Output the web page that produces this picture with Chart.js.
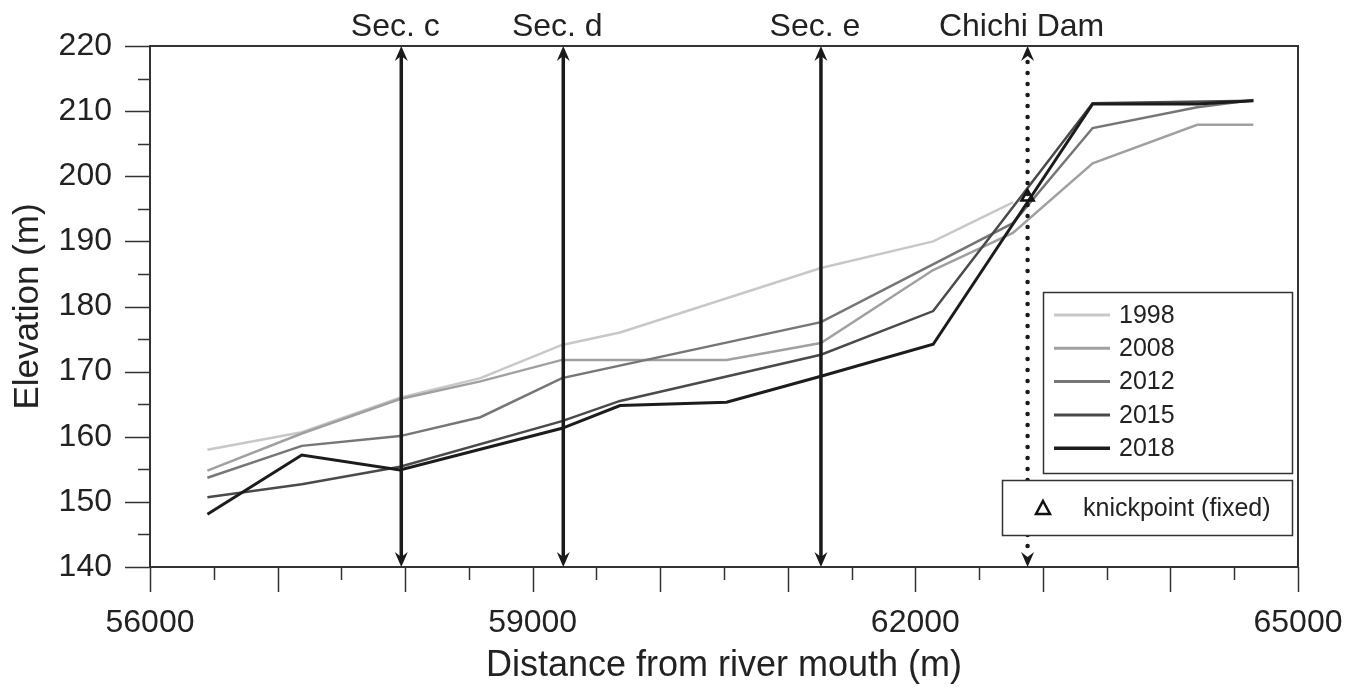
<!DOCTYPE html>
<html><head><meta charset="utf-8">
<script src="https://cdn.jsdelivr.net/npm/chart.js@4.4.1/dist/chart.umd.min.js"></script>
<style>html,body{margin:0;padding:0;background:#fff;} #wrap{width:1358px;height:693px;}</style>
</head><body><div id="wrap"><canvas id="c" width="1358" height="693"></canvas></div>
<script>
const years = ['1998','2008','2012','2015','2018'];
const dist1998 = [56450,57190,57960,58590,59230,59685,61260,62140,62765];
const elev1998 = [158.0,160.7,166.0,169.0,174.1,176.0,185.9,190.0,196.0];
const dist2008 = [56450,57190,57960,58590,59230,60520,61260,62140,62765,63390,64210,64650];
const elev2008 = [154.8,160.5,165.8,168.5,171.8,171.8,174.4,185.6,191.3,202.0,207.9,207.9];
const dist2012 = [56450,57190,57960,58590,59230,61260,62765,63390,64210,64650];
const elev2012 = [153.7,158.6,160.1,163.0,169.0,177.6,192.8,207.4,210.6,211.7];
const dist2015 = [56450,57190,57960,59230,59685,61260,62140,63390,64650];
const elev2015 = [150.7,152.7,155.4,162.4,165.5,172.6,179.3,211.2,211.6];
const dist2018 = [56450,57190,57960,59230,59685,60520,61260,62140,63390,64210,64650];
const elev2018 = [148.1,157.2,154.9,161.3,164.8,165.3,169.3,174.2,211.1,211.1,211.6];
const sectionNames = ['Sec. c','Sec. d','Sec. e','Chichi Dam'];
const sectionDist = [57970,59240,61260,62880];
const sectionDotted = [false,false,false,true];
const knickDist = [62880];
const knickElev = [196.8];
const knickLabel = 'knickpoint (fixed)';
const xTitle = 'Distance from river mouth (m)';
const yTitle = 'Elevation (m)';
const xMin = 56000, xMax = 65000, xLabelStep = 3000;
const yMin = 140, yMax = 220;

const dists = [dist1998,dist2008,dist2012,dist2015,dist2018];
const elevs = [elev1998,elev2008,elev2012,elev2015,elev2018];
const lineColors = ['#c8c8c8','#a0a0a0','#767676','#4a4a4a','#1c1c1c'];
const lineWidths = [2.5,2.5,2.5,2.5,3];
const FONT = '"Liberation Sans", Arial, Helvetica, sans-serif';
const TXT = '#222';

const datasets = years.map((yr,i)=>({
  label: yr,
  data: dists[i].map((d,j)=>({x:d,y:elevs[i][j]})),
  borderColor: lineColors[i], borderWidth: lineWidths[i],
  pointRadius: 0, fill: false, tension: 0, order: 5 - i
}));
datasets.push({
  label: knickLabel,
  data: knickDist.map((d,j)=>({x:d,y:knickElev[j]})),
  showLine: false, pointStyle: 'triangle', pointRadius: 7,
  pointBorderColor: '#111', pointBackgroundColor: 'rgba(0,0,0,0)', pointBorderWidth: 2.5, order: 0
});

function arrowHead(ctx, x, y, dir){
  ctx.beginPath();
  ctx.moveTo(x, y);
  ctx.lineTo(x-6.5, y + dir*15);
  ctx.lineTo(x, y + dir*10);
  ctx.lineTo(x+6.5, y + dir*15);
  ctx.closePath();
  ctx.fill();
}

const decor = {
  id: 'decor',
  afterDatasetsDraw(chart){
    const ctx = chart.ctx, xs = chart.scales.x, ys = chart.scales.y;
    const top = ys.getPixelForValue(yMax), bot = ys.getPixelForValue(yMin);
    ctx.save();
    sectionDist.forEach((d,i)=>{
      const x = xs.getPixelForValue(d);
      ctx.strokeStyle = '#1a1a1a'; ctx.fillStyle = '#1a1a1a';
      if (sectionDotted[i]) {
        ctx.lineWidth = 4.5; ctx.lineCap = 'round'; ctx.setLineDash([0, 11]);
        ctx.beginPath(); ctx.moveTo(x, top+16); ctx.lineTo(x, bot-12); ctx.stroke();
        ctx.setLineDash([]);
      } else {
        ctx.lineWidth = 3.5; ctx.lineCap = 'butt';
        ctx.beginPath(); ctx.moveTo(x, top+10); ctx.lineTo(x, bot-10); ctx.stroke();
      }
      arrowHead(ctx, x, top, 1);
      arrowHead(ctx, x, bot, -1);
      ctx.font = '32px ' + FONT; ctx.fillStyle = TXT;
      ctx.textAlign = 'center'; ctx.textBaseline = 'middle';
      ctx.fillText(sectionNames[i], x - 6, 27);
    });
    ctx.restore();
  },
  afterDraw(chart){
    const ctx = chart.ctx, xs = chart.scales.x, ys = chart.scales.y;
    const a = chart.chartArea;
    ctx.save();
    ctx.strokeStyle = '#333'; ctx.lineWidth = 2;
    ctx.strokeRect(a.left, a.top, a.right - a.left, a.bottom - a.top);
    ctx.lineWidth = 1.5;
    ctx.beginPath();
    for (let v = yMin; v <= yMax; v += 5) {
      const y = Math.round(ys.getPixelForValue(v)) + 0.5;
      const len = v % 10 === 0 ? 25 : 12;
      ctx.moveTo(a.left - len, y); ctx.lineTo(a.left, y);
    }
    for (let v = xMin; v <= xMax; v += 500) {
      const x = Math.round(xs.getPixelForValue(v)) + 0.5;
      const len = v % 1000 === 0 ? 25 : 13;
      ctx.moveTo(x, a.bottom); ctx.lineTo(x, a.bottom + len);
    }
    ctx.stroke();
    // legend
    ctx.lineWidth = 1.5; ctx.strokeStyle = '#333';
    ctx.fillStyle = '#fff';
    ctx.fillRect(1043, 292, 249, 181);
    ctx.strokeRect(1043.5, 292.5, 249, 181);
    ctx.font = '25px ' + FONT; ctx.textAlign = 'left'; ctx.textBaseline = 'middle';
    years.forEach((yr,i)=>{
      const y = 315 + i*33.3;
      ctx.strokeStyle = lineColors[i]; ctx.lineWidth = lineWidths[i] + 0.5;
      ctx.beginPath(); ctx.moveTo(1054, y); ctx.lineTo(1110, y); ctx.stroke();
      ctx.fillStyle = TXT; ctx.fillText(yr, 1119, y + 1);
    });
    ctx.fillStyle = '#fff';
    ctx.fillRect(1002, 480, 290, 55);
    ctx.strokeStyle = '#333'; ctx.lineWidth = 1.5;
    ctx.strokeRect(1002.5, 480.5, 290, 55);
    ctx.strokeStyle = '#111'; ctx.lineWidth = 2.5;
    ctx.beginPath(); ctx.moveTo(1043, 501); ctx.lineTo(1050, 514); ctx.lineTo(1036, 514); ctx.closePath(); ctx.stroke();
    ctx.fillStyle = TXT; ctx.fillText(knickLabel, 1083, 509);
    ctx.restore();
  }
};

new Chart(document.getElementById('c'), {
  type: 'line',
  data: { datasets },
  options: {
    responsive: false, devicePixelRatio: 1, animation: false,
    layout: { padding: { top: 46, right: 60, left: 0, bottom: 0 } },
    plugins: { legend: { display: false }, tooltip: { enabled: false } },
    scales: {
      x: {
        type: 'linear', min: xMin, max: xMax,
        afterFit(s){ s.height = 126; s.paddingLeft = 0; s.paddingRight = 0; },
        grid: { display: false, drawTicks: false }, border: { display: false },
        ticks: { stepSize: 500, autoSkip: false, maxRotation: 0, padding: 37,
          font: { family: FONT, size: 32 }, color: TXT,
          callback: v => ((v - xMin) % xLabelStep === 0 ? String(v) : '') },
        title: { display: true, text: xTitle, color: TXT, font: { family: FONT, size: 36 }, padding: { top: 0, bottom: 5 } }
      },
      y: {
        type: 'linear', min: yMin, max: yMax,
        afterFit(s){ s.width = 150; s.paddingTop = 0; s.paddingBottom = 0; },
        grid: { display: false, drawTicks: false }, border: { display: false },
        ticks: { stepSize: 5, autoSkip: false, padding: 38,
          font: { family: FONT, size: 32 }, color: TXT,
          callback: v => (v % 10 === 0 ? String(v) : '') },
        title: { display: true, text: yTitle, color: TXT, font: { family: FONT, size: 35 }, padding: { top: 7, bottom: 0 } }
      }
    }
  },
  plugins: [decor]
});
</script></body></html>
